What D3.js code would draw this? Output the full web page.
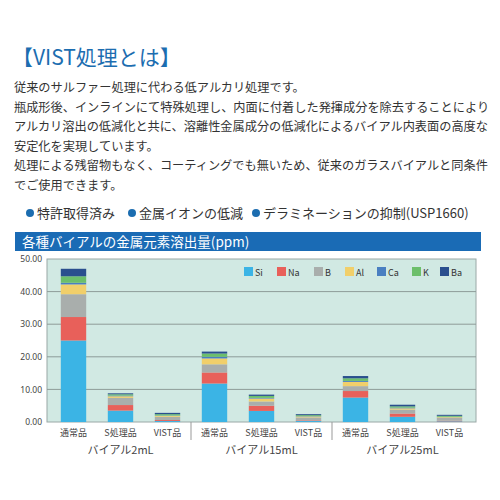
<!DOCTYPE html><html><head><meta charset="utf-8"><script src="https://d3js.org/d3.v7.min.js"></script>
<style>body{margin:0;background:#fff}svg{font-family:"Noto Sans CJK JP",sans-serif}</style></head><body><svg id="c" width="500" height="500"></svg>
<script>
const bars=["通常品","S処理品","VIST品","通常品","S処理品","VIST品","通常品","S処理品","VIST品"];
const groups=["バイアル2mL","バイアル15mL","バイアル25mL"];
const elements=["Si","Na","B","Al","Ca","K","Ba"];
const colors=["#3bb4e5","#e8605a","#a9aeac","#f1cf6a","#4a7fc1","#6cbf6b","#2a4f8e"];
const Si=[25,3.5,0.3,11.8,3.4,0.3,7.5,1.6,0.2];
const Na=[7.2,1.7,0.3,3.4,1.6,0.2,2.0,1.0,0.2];
const B=[7,2.2,1.0,2.5,1.3,0.9,1.5,1.2,0.9];
const Al=[3,0.5,0.3,1.8,0.9,0.3,1.3,0.4,0.2];
const Ca=[0.5,0.2,0.1,0.5,0.2,0.1,0.3,0.2,0.1];
const K=[2,0.4,0.4,1.0,0.6,0.3,0.8,0.4,0.3];
const Ba=[2.3,0.3,0.4,0.6,0.4,0.3,0.7,0.5,0.3];
const yTicks=[0,10,20,30,40,50];
const text=["従来のサルファー処理に代わる低アルカリ処理です。","瓶成形後、インラインにて特殊処理し、内面に付着した発揮成分を除去することにより","アルカリ溶出の低減化と共に、溶離性金属成分の低減化によるバイアル内表面の高度な","安定化を実現しています。","処理による残留物もなく、コーティングでも無いため、従来のガラスバイアルと同条件","でご使用できます。"];
const bullets=["特許取得済み","金属イオンの低減","デラミネーションの抑制(USP1660)"];

const svg=d3.select("#c");
svg.append("text").attr("x",12).attr("y",65).attr("font-size",21).attr("fill","#1c6db0").text("【VIST処理とは】");
text.forEach((t,i)=>svg.append("text").attr("x",14).attr("y",92+i*19.5).attr("font-size",12.2).attr("fill","#333").text(t));
const bx=[26,128,252];
bullets.forEach((t,i)=>{svg.append("circle").attr("cx",bx[i]+4).attr("cy",213).attr("r",4).attr("fill","#1c6db0");
 svg.append("text").attr("x",bx[i]+11).attr("y",218).attr("font-size",13).attr("fill","#333").text(t);});
svg.append("rect").attr("x",15).attr("y",232).attr("width",466).attr("height",19).attr("fill","#1a6bb5");
svg.append("text").attr("x",22).attr("y",247).attr("font-size",13.5).attr("fill","#fff").text("各種バイアルの金属元素溶出量(ppm)");

const L=47,R=476,T=259,Bt=422;
const y=d3.scaleLinear().domain([0,50]).range([Bt,T]);
const x=d3.scaleBand().domain(d3.range(9)).range([L+3,R-3]).paddingInner(0.46).paddingOuter(0.23);
svg.append("rect").attr("x",L).attr("y",T).attr("width",R-L).attr("height",Bt-T).attr("fill","#d1e9e3").attr("stroke","#9aa8a6");
yTicks.forEach(v=>{if(v>0&&v<50)svg.append("line").attr("x1",L).attr("x2",R).attr("y1",y(v)).attr("y2",y(v)).attr("stroke","#8e9c99").attr("stroke-width",1);});
const ax=svg.append("g").attr("transform",`translate(${L},0)`).call(d3.axisLeft(y).tickValues(yTicks).tickFormat(d3.format(".2f")).tickSize(0).tickPadding(5));
ax.select(".domain").remove();ax.selectAll("text").attr("font-size",8.5).attr("fill","#444").attr("font-family","Noto Sans");
const series=[Si,Na,B,Al,Ca,K,Ba];
const rows=d3.range(9).map(i=>{const o={i};elements.forEach((e,k)=>o[e]=series[k][i]);return o;});
const st=d3.stack().keys(elements)(rows);
st.forEach((s,k)=>svg.append("g").attr("fill",colors[k]).selectAll("rect").data(s).join("rect")
 .attr("x",d=>x(d.data.i)).attr("width",x.bandwidth()).attr("y",d=>y(d[1])).attr("height",d=>y(d[0])-y(d[1])));
bars.forEach((b,i)=>svg.append("text").attr("x",x(i)+x.bandwidth()/2).attr("y",436).attr("text-anchor","middle").attr("font-size",9).attr("fill","#444").text(b));
[3,6].forEach(i=>{const sx=(x(i-1)+x.bandwidth()+x(i))/2;svg.append("line").attr("x1",sx).attr("x2",sx).attr("y1",Bt).attr("y2",440).attr("stroke","#999");});
groups.forEach((g,j)=>svg.append("text").attr("x",x(j*3+1)+x.bandwidth()/2).attr("y",454).attr("text-anchor","middle").attr("font-size",11).attr("fill","#444").text(g));
const lx=[272,305,342,373,405,440,468];
elements.forEach((e,k)=>{svg.append("rect").attr("x",lx[k]-28).attr("y",267).attr("width",9).attr("height",9).attr("fill",colors[k]);
 svg.append("text").attr("x",lx[k]-17).attr("y",275.5).attr("font-size",9).attr("fill","#333").text(e);});
</script></body></html>
